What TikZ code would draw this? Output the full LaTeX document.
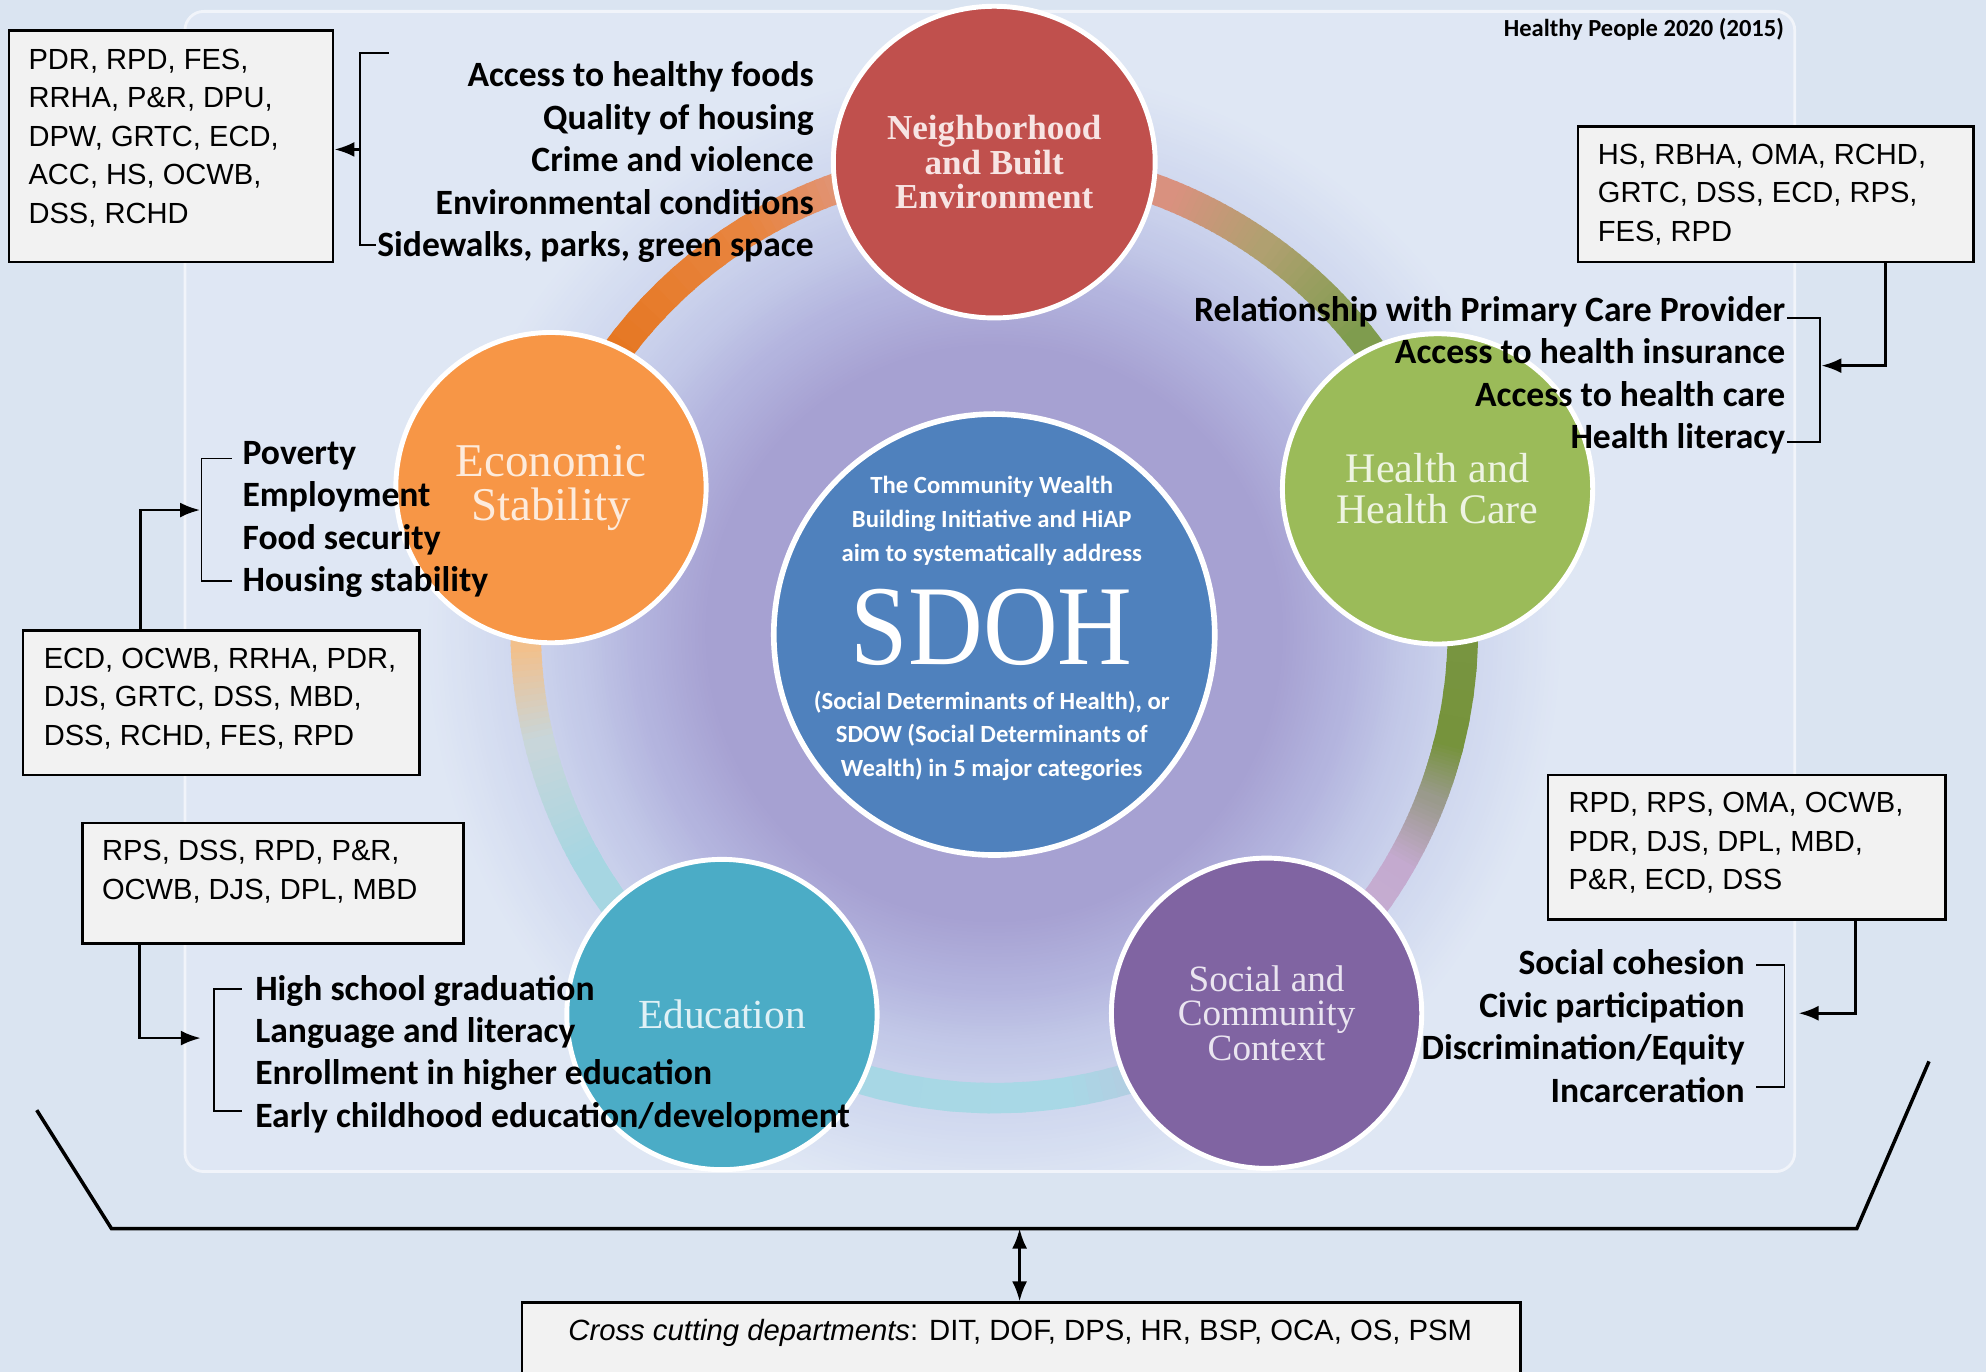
\documentclass[tikz,border=0pt]{standalone}
\usepackage{fontspec}
\setmainfont{Liberation Serif}
\newfontfamily\calib{Carlito}
\newfontfamily\arialf{Liberation Sans}
\usetikzlibrary{shapes.geometric,arrows.meta,calc}

\definecolor{bgc}{HTML}{DAE4F1}
\definecolor{panelc}{HTML}{DFE7F4}
\definecolor{g1}{HTML}{D0D8EF}
\definecolor{g2}{HTML}{C3C9E8}
\definecolor{g3}{HTML}{B3B4DE}
\definecolor{g4}{HTML}{A6A1D2}
\definecolor{nbe}{HTML}{C0504D}
\definecolor{eco}{HTML}{F79646}
\definecolor{hhc}{HTML}{9BBB59}
\definecolor{edu}{HTML}{4BACC6}
\definecolor{scc}{HTML}{8064A2}
\definecolor{sdo}{HTML}{4F81BD}
\definecolor{boxc}{HTML}{F2F2F2}
\definecolor{nbtx}{HTML}{F7E4E3}
\definecolor{ecotx}{HTML}{FDEBDC}
\definecolor{hhctx}{HTML}{EEF4E2}
\definecolor{edutx}{HTML}{E0F1F6}
\definecolor{scctx}{HTML}{EAE5F0}
% ring colours
\definecolor{rA}{HTML}{D9917F}
\definecolor{rB}{HTML}{B0A070}
\definecolor{rC}{HTML}{7F9C4E}
\definecolor{rD}{HTML}{76933C}
\definecolor{rE}{HTML}{9A9A8C}
\definecolor{rF}{HTML}{C4AACF}
\definecolor{rG}{HTML}{C9B6D9}
\definecolor{rH}{HTML}{A8D8E6}
\definecolor{rI}{HTML}{A6D6E2}
\definecolor{rJ}{HTML}{C8D6DA}
\definecolor{rK}{HTML}{F2C08C}
\definecolor{rL}{HTML}{E46C0A}
\definecolor{rM}{HTML}{E8843E}
\definecolor{rN}{HTML}{DE9A8C}

\newcommand\ringseg[4]{%
  \foreach \k in {0,...,15}{%
    \pgfmathsetmacro\angA{#1+(#2-(#1))*\k/16}%
    \pgfmathsetmacro\angB{#1+(#2-(#1))*(\k+1.3)/16}%
    \pgfmathtruncatemacro\mixp{100*\k/15}%
    \draw[ringline, draw=#4!\mixp!#3] (ringc) ++(\angA:370) arc[start angle=\angA, end angle=\angB, radius=370];
  }%
}
\newcommand\glowband[4]{%
  \foreach \k in {0,...,19}{%
    \pgfmathsetmacro\rr{#1-(#1-#2)*\k/20}%
    \pgfmathtruncatemacro\mixp{100*\k/19}%
    \fill[#4!\mixp!#3] (glowc) circle (\rr);
  }%
}

\begin{document}
\begin{tikzpicture}[x=0.0127cm, y=-0.0127cm,
  cat/.style={circle, draw=white, line width=1.4pt, inner sep=0pt, minimum size=3.11cm, align=center},
  ringline/.style={line width=0.305cm},
  grp/.style={inner sep=0pt, font=\calib\bfseries\fontsize{10.15}{12.1}\selectfont, text=black},
  dbox/.style={draw=black, line width=0.7pt, fill=boxc, inner sep=0pt, anchor=north west},
  dtext/.style={inner sep=0pt, anchor=north west, align=left, font=\arialf\fontsize{8.3}{11}\selectfont},
  brk/.style={line width=0.5pt},
  arr/.style={line width=0.8pt, -{Latex[length=2mm,width=1.5mm]}},
]
\useasboundingbox (0,0) rectangle (1568,1083);
\fill[bgc] (0,0) rectangle (1568,1083);

% panel with glow
\coordinate (glowc) at (785,500);
\begin{scope}
\fill[panelc, rounded corners=0.19cm] (146,9) rectangle (1417,925);
\clip[rounded corners=0.19cm] (146,9) rectangle (1417,925);
\glowband{450}{380}{panelc}{g1}
\glowband{380}{330}{g1}{g2}
\glowband{330}{280}{g2}{g3}
\glowband{280}{225}{g3}{g4}
\end{scope}
\draw[white!55!panelc, line width=0.8pt, rounded corners=0.19cm] (146,9) rectangle (1417,925);

% ring
\coordinate (ringc) at (785,497);
\ringseg{-90}{-68}{rA}{rA}
\ringseg{-68}{-55}{rA}{rB}
\ringseg{-55}{-39}{rB}{rC}
\ringseg{-39}{14}{rC}{rD}
\ringseg{14}{21}{rD}{rE}
\ringseg{21}{30}{rE}{rF}
\ringseg{30}{54.6}{rF}{rG}
\ringseg{54.6}{82}{rG}{rH}
\ringseg{82}{150}{rH}{rI}
\ringseg{150}{166}{rI}{rJ}
\ringseg{166}{178}{rJ}{rK}
\ringseg{178}{197.7}{rK}{rL}
\ringseg{197.7}{238}{rL}{rM}
\ringseg{238}{256}{rM}{rN}
\ringseg{256}{270}{rN}{rN}

% category circles
\node[cat, ellipse, minimum width=3.226cm, minimum height=3.124cm, fill=nbe, text=nbtx,
      font=\bfseries\fontsize{10}{9.9}\selectfont] (nbe) at (785,128) {Neighborhood\\and Built\\Environment};
\node[cat, fill=eco, text=ecotx, font=\fontsize{13.4}{12.6}\selectfont] (eco) at (435,385) {Economic\\Stability};
\node[cat, fill=hhc, text=hhctx, font=\fontsize{12}{11.6}\selectfont] (hhc) at (1135,386) {Health and\\Health Care};
\node[cat, fill=edu, text=edutx, font=\fontsize{11.8}{11}\selectfont] (edu) at (570,801) {Education};
\node[cat, fill=scc, text=scctx, font=\fontsize{10.6}{9.75}\selectfont] (scc) at (1000,800) {Social and\\Community\\Context};

% centre
\node[circle, draw=white, line width=1.6pt, fill=sdo, minimum size=4.42cm] (sdoh) at (785,501) {};
\node[text=white, inner sep=0pt, font=\calib\bfseries\fontsize{7.05}{9.75}\selectfont, align=center] (sdtop) at (783,411)
  {The Community Wealth\\Building Initiative and HiAP\\aim to systematically address};
\node[text=white, inner sep=0pt, font=\fontsize{29.5}{30}\selectfont] (sdbig) at (783,495) {\scalebox{1}[1.1]{SDOH}};
\node[text=white, inner sep=0pt, font=\calib\bfseries\fontsize{7.05}{9.6}\selectfont, align=center] (sdbot) at (783,581)
  {(Social Determinants of Health), or\\SDOW (Social Determinants of\\Wealth) in 5 major categories};

% source
\node[inner sep=0pt, anchor=base east, font=\calib\bfseries\fontsize{7}{8}\selectfont] (hp) at (1409,29) {Healthy People 2020 (2015)};

% lists
\node[grp, anchor=north east, align=right] (l1) at (643,44.6)
  {\strut Access to healthy foods\\Quality of housing\\Crime and violence\\Environmental conditions\\Sidewalks, parks, green space};
\node[grp, anchor=north west, align=left] (l2) at (191,342.6)
  {\strut Poverty\\Employment\\Food security\\Housing stability};
\node[grp, anchor=north east, align=right] (l3) at (1410,229.6)
  {\strut Relationship with Primary Care Provider\\Access to health insurance\\Access to health care\\Health literacy};
\node[grp, anchor=north east, align=right] (l4) at (1378,745.6)
  {\strut Social cohesion\\Civic participation\\Discrimination/Equity\\Incarceration};
\node[grp, anchor=north west, align=left] (l5) at (201,765.6)
  {\strut High school graduation\\Language and literacy\\Enrollment in higher education\\Early childhood education/development};

% department boxes
\node[dbox, minimum width=3.251cm, minimum height=2.324cm] (b1) at (6,23) {};
\node[dtext] (t1) at (22,32.7) {\strut PDR, RPD, FES,\\RRHA, P\&R, DPU,\\DPW, GRTC, ECD,\\ACC, HS, OCWB,\\DSS, RCHD};
\node[dbox, minimum width=3.975cm, minimum height=1.448cm] (b2) at (17,497) {};
\node[dtext] (t2) at (34,505.7) {\strut ECD, OCWB, RRHA, PDR,\\DJS, GRTC, DSS, MBD,\\DSS, RCHD, FES, RPD};
\node[dbox, minimum width=3.962cm, minimum height=1.359cm] (b3) at (1245,99) {};
\node[dtext] (t3) at (1261,107.7) {\strut HS, RBHA, OMA, RCHD,\\GRTC, DSS, ECD, RPS,\\FES, RPD};
\node[dbox, minimum width=3.988cm, minimum height=1.448cm] (b4) at (1221,611) {};
\node[dtext] (t4) at (1238,619.7) {\strut RPD, RPS, OMA, OCWB,\\PDR, DJS, DPL, MBD,\\P\&R, ECD, DSS};
\node[dbox, minimum width=3.823cm, minimum height=1.207cm] (b5) at (64,649) {};
\node[dtext] (t5) at (80,657.7) {\strut RPS, DSS, RPD, P\&R,\\OCWB, DJS, DPL, MBD};
\node[dbox, minimum width=10.008cm, minimum height=0.889cm] (b6) at (411,1027.5) {};
\node[inner sep=0pt, anchor=base, font=\arialf\fontsize{8.35}{11}\selectfont] (t6) at (805.5,1058)
  {\textit{Cross cutting departments}: DIT, DOF, DPS, HR, BSP, OCA, OS, PSM};

% bracket 1
\coordinate (k1a) at (307,42); \coordinate (k1b) at (284,42);
\coordinate (k1c) at (284,193.5); \coordinate (k1d) at (297,193.5);
\coordinate (k1m) at (284,118);
\draw[brk] (k1a) -- (k1b) -- (k1c) -- (k1d);
\draw[arr] (k1m) -- (b1.east |- k1m);
% bracket 2
\coordinate (k2a) at (183,362); \coordinate (k2b) at (159,362);
\coordinate (k2c) at (159,459); \coordinate (k2d) at (183,459);
\coordinate (k2m) at (158,402.7); \coordinate (c2) at (110.8,402.7);
\draw[brk] (k2a) -- (k2b) -- (k2c) -- (k2d);
\draw[arr] (b2.north -| c2) -- (c2) -- (k2m);
% bracket 3
\coordinate (k3a) at (1411,251); \coordinate (k3b) at (1437,251);
\coordinate (k3c) at (1437,348.7); \coordinate (k3d) at (1411,348.7);
\coordinate (k3m) at (1438,288.7); \coordinate (c3) at (1488.6,288.7);
\draw[brk] (k3a) -- (k3b) -- (k3c) -- (k3d);
\draw[arr] (b3.south -| c3) -- (c3) -- (k3m);
% bracket 4
\coordinate (k4a) at (1386.5,762); \coordinate (k4b) at (1409,762);
\coordinate (k4c) at (1409,858); \coordinate (k4d) at (1386.5,858);
\coordinate (k4m) at (1420,800); \coordinate (c4) at (1465,800);
\draw[brk] (k4a) -- (k4b) -- (k4c) -- (k4d);
\draw[arr] (b4.south -| c4) -- (c4) -- (k4m);
% bracket 5
\coordinate (k5a) at (191,781); \coordinate (k5b) at (168.7,781);
\coordinate (k5c) at (168.7,877); \coordinate (k5d) at (191,877);
\coordinate (k5m) at (158.6,819.6); \coordinate (c5) at (110,819.6);
\draw[brk] (k5a) -- (k5b) -- (k5c) -- (k5d);
\draw[arr] (b5.south -| c5) -- (c5) -- (k5m);

% big bracket and cross-cutting arrow
\coordinate (p1) at (29,876.5); \coordinate (p2) at (88,970);
\coordinate (p3) at (1466,970); \coordinate (p4) at (1523,838);
\coordinate (dm) at (805,970);
\draw[line width=1pt, line join=miter] (p1) -- (p2) -- (p3) -- (p4);
\draw[line width=0.8pt, {Latex[length=2mm,width=1.5mm]}-{Latex[length=2mm,width=1.5mm]}] (dm) -- (b6.north -| dm);
\end{tikzpicture}
\end{document}
